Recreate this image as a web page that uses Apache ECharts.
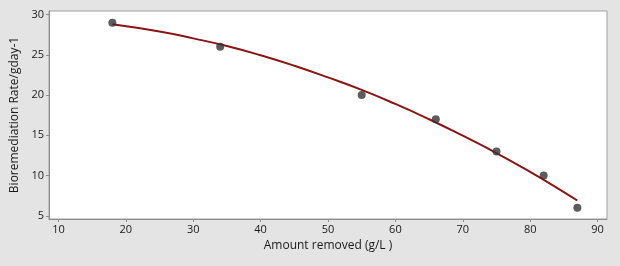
<!DOCTYPE html>
<html>
<head>
<meta charset="utf-8">
<script src="https://cdn.jsdelivr.net/npm/echarts@6/dist/echarts.min.js"></script>
<style>
html,body{margin:0;padding:0;background:#e4e4e4;}
#main{width:620px;height:266px;}
</style>
</head>
<body>
<div id="main"></div>
<script>
// measured points
var amount=[18,34,55,66,75,82,87];
var rate=[29,26,20,17,13,10,6];
// fitted curve
var fitX=[18,25,30,35,40,45,50,55,60,65,70,75,80,85,87];
var fitY=[28.8,27.9,27.05,26.1,24.95,23.65,22.2,20.65,18.9,17.0,14.95,12.8,10.45,7.95,6.9];
// tick labels
var xTicks=[10,20,30,40,50,60,70,80,90];
var yTicks=[5,10,15,20,25,30];

var chartDom = document.getElementById('main');
var myChart = echarts.init(chartDom);
var option;

var pts=amount.map(function(v,i){return [v,rate[i]];});
var fit=fitX.map(function(v,i){return [v,fitY[i]];});

option = {
    backgroundColor: '#e4e4e4',
    textStyle: {fontFamily: 'Open Sans'},
    grid: {
      left: 49, right: 13, top: 11, bottom: 47,
      show: true,
      backgroundColor: '#ffffff',
      borderColor: '#a0a0a0',
      borderWidth: 1
    },
    xAxis: {
      type: 'value',
      min: 8.6, max: 91.4,
      name: 'Amount removed (g/L )',
      nameLocation: 'middle',
      nameGap: 21,
      nameTextStyle: {color: '#1a1a1a', fontSize: 12},
      axisLine: {lineStyle: {color: '#8c8c8c'}},
      axisTick: {length: 3, customValues: xTicks, lineStyle: {color: '#8c8c8c'}},
      axisLabel: {color: '#1a1a1a', fontSize: 11, margin: 5, customValues: xTicks},
      splitLine: {show: false}
    },
    yAxis: {
      type: 'value',
      min: 4.6, max: 30.45,
      name: 'Bioremediation Rate/gday-1',
      nameLocation: 'middle',
      nameGap: 26,
      nameTextStyle: {color: '#1a1a1a', fontSize: 12},
      axisLine: {show: true, lineStyle: {color: '#8c8c8c'}},
      axisTick: {show: true, length: 3, customValues: yTicks, lineStyle: {color: '#8c8c8c'}},
      axisLabel: {color: '#1a1a1a', fontSize: 11, margin: 5, customValues: yTicks},
      splitLine: {show: false}
    },
    series: [
      {
        type: 'line',
        data: fit,
        smooth: true,
        showSymbol: false,
        lineStyle: {color: '#8b1414', width: 2},
        z: 2
      },
      {
        type: 'scatter',
        data: pts,
        symbolSize: 8,
        itemStyle: {color: '#333333'},
        z: 3
      }
    ]
};
myChart.setOption(option);
</script>
</body>
</html>
